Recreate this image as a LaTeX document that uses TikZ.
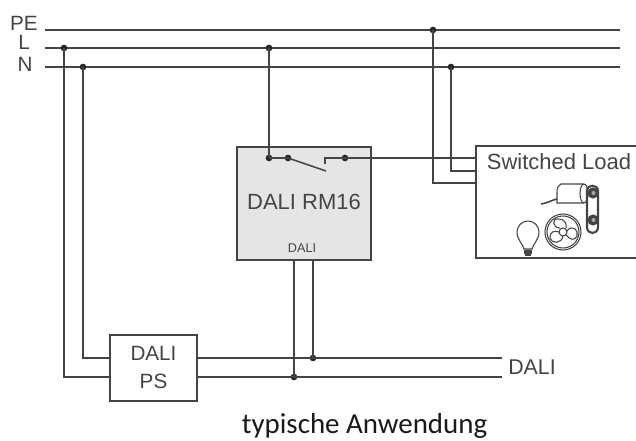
\documentclass[tikz,border=0pt]{standalone}
\usepackage{fontspec}
\setmainfont{Liberation Sans}
\newfontfamily\capfont{Carlito}
\definecolor{ink}{HTML}{444444}
\tikzset{
  wire/.style={draw=ink,line width=1.15pt},
  boxn/.style={draw=ink,line width=1.25pt,inner sep=0pt,outer sep=0pt},
  lab/.style={text=ink,inner sep=0pt,font=\fontsize{15.5}{15.5}\selectfont},
  dot/.style={circle,fill=black!85,inner sep=0pt,minimum size=5pt},
  icon/.style={draw=ink,line width=0.8pt}
}
\begin{document}
\begin{tikzpicture}[x=0.75pt,y=-0.75pt]
\useasboundingbox (0,0) rectangle (636,441);
% boxes
\node[boxn,fill=black!10,minimum width=100.5pt,minimum height=84.75pt] (rm) at (304,203.5) {};
\node[boxn,minimum width=65.25pt,minimum height=49.5pt] (ps) at (153.5,368) {};
\draw[boxn] (636,146) -- (476,146) -- (476,258) -- (636,258);
\coordinate (lda) at (476,158);
\coordinate (lpe) at (476,183);
\coordinate (ln) at (476,171);
% mains
\coordinate (pe0) at (45,30); \coordinate (pe1) at (620,30);
\coordinate (l0) at (45,48); \coordinate (l1) at (620,48);
\coordinate (n0) at (45,67); \coordinate (n1) at (620,67);
\draw[wire] (pe0) -- (pe1);
\draw[wire] (l0) -- (l1);
\draw[wire] (n0) -- (n1);
\node[lab,anchor=east] (tpe) at (38,23) {PE};
\node[lab,anchor=center] (tl) at (24,42) {L};
\node[lab,anchor=center] (tn) at (25,64) {N};
% junctions
\node[dot] (jl) at (64,48) {};
\node[dot] (jn) at (83,67) {};
\node[dot] (jl2) at (269,48) {};
\node[dot] (jpe) at (433,30) {};
\node[dot] (jn2) at (451,67) {};
\node[dot] (s1) at (269,158) {};
\node[dot] (s2) at (288,158) {};
\node[dot] (s3) at (345,158) {};
\node[dot] (d1) at (294,377) {};
\node[dot] (d2) at (313,358) {};
\coordinate (bl) at (326,171);
\coordinate (c1) at (325,164);
\coordinate (e1) at (502,358);
\coordinate (e2) at (502,377);
% wires
\draw[wire] (jl.center) |- (110,377);
\draw[wire] (jn.center) |- (110,358);
\draw[wire] (jl2.center) -- (s1.center);
\draw[wire] (s1.center) -- (s2.center) -- (bl);
\draw[wire] (c1) |- (s3.center) -- (lda);
\draw[wire] (jpe.center) |- (lpe);
\draw[wire] (jn2.center) |- (ln);
\draw[wire] (197,358) -- (e1);
\draw[wire] (197,377) -- (e2);
\draw[wire] (d1.center) -- (294,260);
\draw[wire] (d2.center) -- (313,260);
% labels
\node[lab,font=\fontsize{16.5}{16.5}\selectfont] (trm) at (304,202) {DALI RM16};
\node[lab,font=\fontsize{9.5}{9.5}\selectfont] (tda) at (302,248) {DALI};
\node[lab,font=\fontsize{16.5}{16.5}\selectfont] (tsl) at (559,162) {Switched Load};
\node[lab,font=\fontsize{15.5}{15.5}\selectfont] (tps1) at (153.5,353) {DALI};
\node[lab,font=\fontsize{15.5}{15.5}\selectfont] (tps2) at (153.5,381) {PS};
\node[lab,anchor=west,font=\fontsize{16}{16}\selectfont] (td) at (508,367) {DALI};
\node[inner sep=0pt,anchor=base,text=black!90,font=\capfont\fontsize{21.7}{21.7}\selectfont] (cap) at (364.5,433.5) {typische Anwendung};
% icons: bulb
\draw[icon] (524,249) .. controls (523,244) and (517,240) .. (517,232)
  arc[start angle=180,end angle=360,radius=11] .. controls (539,240) and (533,244) .. (532,249) -- cycle;
\draw[icon,line width=1.4pt] (524,251) -- (532,251) (524,253) -- (532,253) (525,255) -- (531,255);
% fan
\draw[icon] (563,232) circle[radius=18];
\draw[icon] (563,232) circle[radius=16];
\draw[icon] (563,232) circle[radius=4];
\draw[icon] (560,228) .. controls (552,228) and (552,218) .. (558,219) .. controls (565,219) and (567,224) .. (566,228);
\draw[icon] (567,231) .. controls (572,224) and (579,230) .. (577,236) .. controls (575,241) and (570,240) .. (566,235);
\draw[icon] (563,236) .. controls (562,244) and (551,244) .. (550,238) .. controls (549,232) and (555,230) .. (559,232);
% motor
\draw[icon] (584,184) -- (561,184) .. controls (558,185) and (557,188) .. (557,192) -- (557,203) -- (584,203);
\draw[icon] (584,193.5) ellipse[x radius=4,y radius=9.5];
\draw[icon,line width=1.2pt] (541,204) .. controls (548,203) and (552,200) .. (557,199);
% belt
\draw[icon,line width=1.6pt] (587,191) .. controls (587,184) and (598,184) .. (598,191) -- (598,227) .. controls (598,235) and (587,235) .. (587,227) -- cycle;
\draw[icon,fill=ink] (593,193) circle[radius=5];
\draw[icon,fill=ink] (593,220) circle[radius=5];
\fill[black!35] (593.5,193) circle[radius=2] (593.5,220) circle[radius=2];
\end{tikzpicture}
\end{document}
